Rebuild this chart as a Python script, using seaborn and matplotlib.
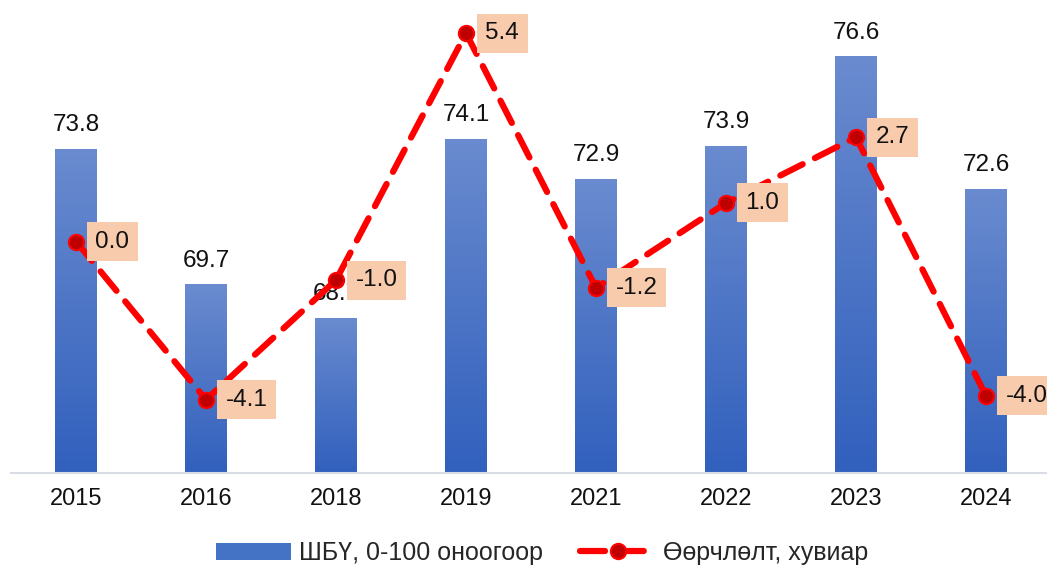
import numpy as np
import pandas as pd
import matplotlib
matplotlib.use("Agg")
import matplotlib.pyplot as plt
import seaborn as sns
from matplotlib.patches import Patch
from matplotlib.colors import LinearSegmentedColormap

years = ["2015", "2016", "2018", "2019", "2021", "2022", "2023", "2024"]
score = [73.8, 69.7, 68.7, 74.1, 72.9, 73.9, 76.6, 72.6]
change = [0.0, -4.1, -1.0, 5.4, -1.2, 1.0, 2.7, -4.0]
bar_label = "ШБҮ, 0-100 оноогоор"
line_label = "Өөрчлөлт, хувиар"

sns.set_style("white")
plt.rcParams["font.family"] = ["Liberation Sans", "DejaVu Sans"]

df = pd.DataFrame({"year": years, "score": score, "change": change})

fig = plt.figure(figsize=(10.47, 5.66), dpi=100)
ax = fig.add_axes([11 / 1047, 93 / 566, 1040 / 1047, 463 / 566])

sns.barplot(data=df, x="year", y="score", color="#4472c4", width=0.32,
            saturation=1, ax=ax)
ax.set_xlim(-0.5, 7.5)
ax.set_ylim(64, 78)

# gradient fill on bars
cmap = LinearSegmentedColormap.from_list("bars", ["#3160bd", "#6a8bcf"])
grad = np.linspace(0, 1, 256).reshape(-1, 1)
for p in list(ax.patches):
    x0, y0 = p.get_x(), p.get_y()
    w, h = p.get_width(), p.get_height()
    im = ax.imshow(grad, cmap=cmap, origin="lower", aspect="auto",
                   extent=[x0, x0 + w, 64, y0 + h], zorder=2)
    im.set_clip_path(p)
    p.set_facecolor("none")
    ax.text(x0 + w / 2, y0 + h + 0.38, f"{y0 + h:.1f}", ha="center",
            va="bottom", fontsize=17.5, color="#111111", zorder=3)
ax.set_xlim(-0.5, 7.5)
ax.set_ylim(64, 78)

for s in ["left", "right", "top"]:
    ax.spines[s].set_visible(False)
ax.spines["bottom"].set_color("#d9dde6")
ax.spines["bottom"].set_linewidth(1.5)
ax.set_yticks([])
ax.set_xlabel("")
ax.set_ylabel("")
ax.tick_params(axis="x", length=0, labelsize=17, pad=11, colors="#111111")

ax2 = ax.twinx()
sns.lineplot(data=df, x="year", y="change", sort=False, ax=ax2,
             color="#ff0000", linewidth=4.5, marker="o", markersize=11,
             markerfacecolor="#c00000", markeredgecolor="#ff0000",
             markeredgewidth=1.5, zorder=4)
line = ax2.lines[0]
line.set_dashes((4, 2.2))
line.set_dash_capstyle("round")
ax2.set_ylim(-6, 6)
ax2.set_xlim(-0.5, 7.5)
ax2.set_yticks([])
ax2.set_ylabel("")
ax2.set_xlabel("")
for s in ax2.spines.values():
    s.set_visible(False)

for i, v in enumerate(change):
    ax2.annotate(f"{v:.1f}", (i, v), xytext=(14, 0), textcoords="offset points",
                 ha="left", va="center", fontsize=17.5, color="#111111", zorder=5,
                 bbox=dict(boxstyle="square,pad=0.35", fc="#f8cbad", ec="none"))

handles = [Patch(facecolor="#4472c4", edgecolor="none"), line]
fig.legend(handles, [bar_label, line_label], loc="center",
           bbox_to_anchor=(0.518, 13 / 566), ncol=2, frameon=False, fontsize=18,
           handlelength=3.0, columnspacing=1.5, handletextpad=0.3)

fig.savefig("out.png", dpi=100)
